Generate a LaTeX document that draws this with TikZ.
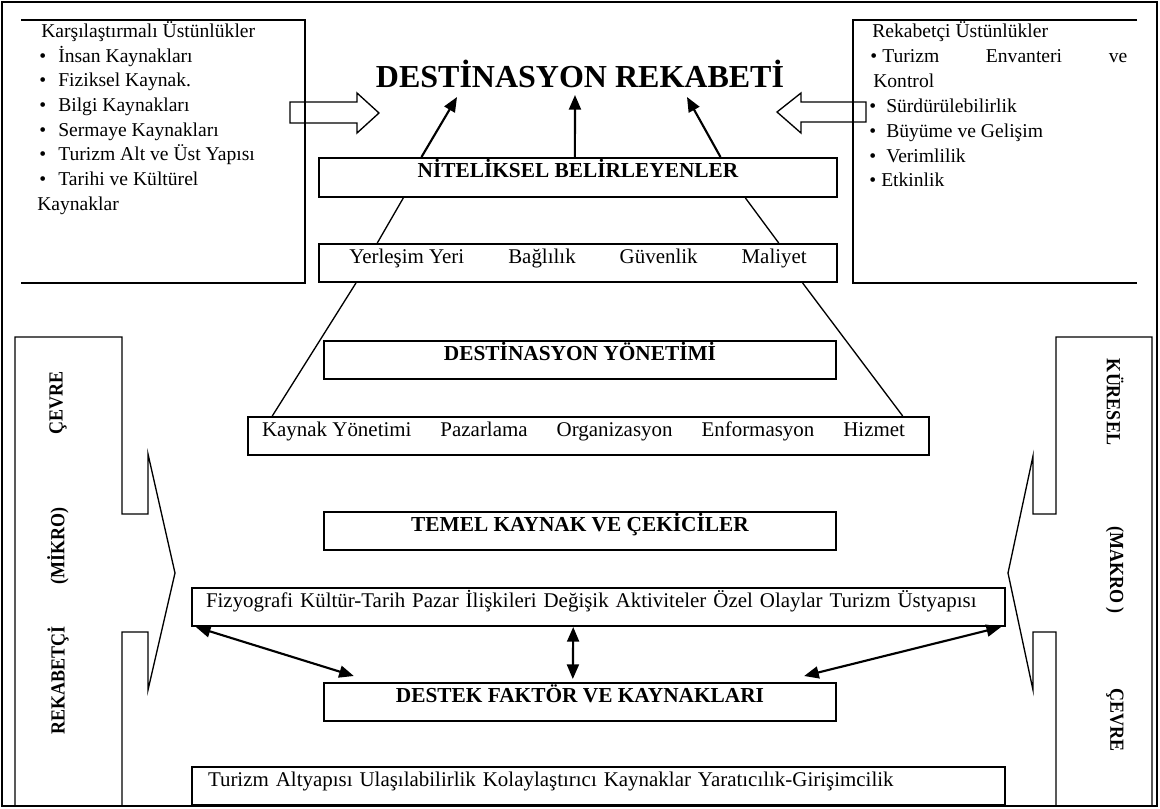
\documentclass[tikz,border=0pt]{standalone}
\usepackage{fontspec}
\setmainfont{Liberation Serif}
\usetikzlibrary{arrows.meta,calc}
\newlength\pxu
\setlength\pxu{0.75pt}
\newcommand\bul{\makebox[19\pxu][l]{•}}
\begin{document}
\begin{tikzpicture}[x=0.75pt,y=-0.75pt,
  framebox/.style={draw,line width=1.5pt,inner sep=0pt,text height=10pt,text depth=10pt},
  boldlabel/.style={font=\bfseries\fontsize{16}{19}\selectfont},
  plainlabel/.style={font=\fontsize{15.7}{19}\selectfont},
  ltext/.style={anchor=base west,inner sep=0pt,font=\fontsize{14.7}{18}\selectfont},
  sidetext/.style={inner sep=0pt,font=\bfseries\fontsize{15}{18}\selectfont},
  openbox/.style={line width=1.5pt},
  thinline/.style={line width=1pt},
  bracket/.style={line width=1pt,line join=miter},
  hollow/.style={line width=1pt,line join=miter},
  arr/.style={line width=1.6pt,-{Triangle[length=11pt,width=9pt]}},
  dbl/.style={line width=1.6pt,{Triangle[length=11pt,width=9pt]}-{Triangle[length=11pt,width=9pt]}}]
\useasboundingbox (0,0) rectangle (1160,808);

% outer frame
\draw[line width=1.8pt] (2,2) rectangle (1157,806);

% title
\node[anchor=base,inner sep=0pt,font=\bfseries\fontsize{24}{28}\selectfont] (title) at (580,87) {DESTİNASYON REKABETİ};

% open boxes at the top corners
\draw[openbox] (21,20) -- (305,20) -- (305,283) -- (21,283);
\draw[openbox] (1137,20) -- (853,20) -- (853,283) -- (1137,283);

% left list
\node[ltext] (la0) at (41,37) {Karşılaştırmalı Üstünlükler};
\node[ltext] (la1) at (39,62) {\bul İnsan Kaynakları};
\node[ltext] (la2) at (39,86.5) {\bul Fiziksel Kaynak.};
\node[ltext] (la3) at (39,111) {\bul Bilgi Kaynakları};
\node[ltext] (la4) at (39,136) {\bul Sermaye Kaynakları};
\node[ltext] (la5) at (39,160.5) {\bul Turizm Alt ve Üst Yapısı};
\node[ltext] (la6) at (39,185) {\bul Tarihi ve Kültürel};
\node[ltext] (la7) at (37,210) {Kaynaklar};

% right list
\node[ltext] (rb0) at (872,37) {Rekabetçi Üstünlükler};
\node[ltext] (rb1) at (870,62) {\makebox[257\pxu][s]{\makebox[12\pxu][l]{•}Turizm Envanteri ve}};
\node[ltext] (rb2) at (873,87) {Kontrol};
\node[ltext] (rb3) at (869,112) {\makebox[17\pxu][l]{•}Sürdürülebilirlik};
\node[ltext] (rb4) at (869,137) {\makebox[17\pxu][l]{•}Büyüme ve Gelişim};
\node[ltext] (rb5) at (869,162) {\makebox[17\pxu][l]{•}Verimlilik};
\node[ltext] (rb6) at (869,186) {\makebox[12\pxu][l]{•}Etkinlik};

% hollow arrows pointing at the title
\draw[hollow] (290,102) -- (357,102) -- (357,93) -- (379,113) -- (357,133) -- (357,123) -- (290,123) -- cycle;
\draw[hollow] (866,102) -- (801,102) -- (801,93) -- (777,112) -- (801,133) -- (801,122) -- (866,122) -- cycle;

% central boxes
\node[framebox,boldlabel,minimum width=388.5pt,minimum height=29.25pt] (nit) at (578,177.5) {NİTELİKSEL BELİRLEYENLER};
\node[framebox,plainlabel,minimum width=388.5pt,minimum height=28.5pt] (yer) at (578,263)
  {Yerleşim Yeri\hspace{33pt}Bağlılık\hspace{33pt}Güvenlik\hspace{33pt}Maliyet};
\node[framebox,boldlabel,minimum width=384pt,minimum height=28.5pt] (dy) at (580,360) {DESTİNASYON YÖNETİMİ};
\node[framebox,plainlabel,minimum width=510.75pt,minimum height=28.5pt] (ky) at (588.5,436)
  {Kaynak Yönetimi\hspace{21.75pt}Pazarlama\hspace{21.75pt}Organizasyon\hspace{21.75pt}Enformasyon\hspace{21.75pt}Hizmet\hspace*{7.5pt}};
\node[framebox,boldlabel,minimum width=384pt,minimum height=28.5pt] (tk) at (580,531) {TEMEL KAYNAK VE ÇEKİCİLER};
\node[framebox,plainlabel,align=left,text width=588.75pt,inner xsep=10.5pt,minimum height=28.5pt] (fiz) at (598.5,607)
  {Fizyografi Kültür-Tarih Pazar İlişkileri Değişik Aktiviteler Özel Olaylar Turizm Üstyapısı};
\node[framebox,boldlabel,minimum width=384pt,minimum height=28.5pt] (des) at (580,702) {DESTEK FAKTÖR VE KAYNAKLARI};
\node[framebox,plainlabel,align=left,text width=585.75pt,inner xsep=12pt,minimum height=28.5pt] (tur) at (598.5,786)
  {Turizm Altyapısı Ulaşılabilirlik Kolaylaştırıcı Kaynaklar Yaratıcılık-Girişimcilik};

% arrows into the title
\coordinate (tA) at (457,97);
\coordinate (tB) at (575,95);
\coordinate (tC) at (687,97);
\draw[arr] ($(nit.north west)!0.199!(nit.north east)$) -- (tA);
\draw[arr] ($(nit.north west)!0.494!(nit.north east)$) -- (tB);
\draw[arr] ($(nit.north west)!0.774!(nit.north east)$) -- (tC);

% thin links between boxes
\draw[thinline] ($(nit.south west)!0.164!(nit.south east)$) -- ($(yer.north west)!0.114!(yer.north east)$);
\draw[thinline] ($(nit.south west)!0.822!(nit.south east)$) -- ($(yer.north west)!0.886!(yer.north east)$);
\draw[thinline] ($(yer.south west)!0.073!(yer.south east)$) -- ($(ky.north west)!0.037!(ky.north east)$);
\draw[thinline] ($(yer.south west)!0.932!(yer.south east)$) -- ($(ky.north west)!0.960!(ky.north east)$);

% two-headed arrows
\draw[dbl] ($(fiz.south west)!0.006!(fiz.south east)$) -- ($(des.north west)!0.06!(des.north east)+(0,-6)$);
\draw[dbl] ($(fiz.south west)!0.469!(fiz.south east)$) -- ($(des.north west)!0.486!(des.north east)+(0,-3)$);
\draw[dbl] ($(fiz.south west)!0.994!(fiz.south east)$) -- ($(des.north west)!0.936!(des.north east)+(0,-6)$);

% side brackets
\draw[bracket] (15,806) -- (15,337) -- (122,337) -- (122,514) -- (148,514) -- (148,454) -- (175,573)
  -- (148,690) -- (148,632) -- (122,632) -- (122,806);
\draw[bracket] (1152,806) -- (1152,337) -- (1056,337) -- (1056,514) -- (1033,514) -- (1033,456) -- (1008,573)
  -- (1033,690) -- (1033,632) -- (1056,632) -- (1056,806);

% side labels
\node[sidetext,rotate=90,xscale=0.9] (lc) at (58,403) {ÇEVRE};
\node[sidetext,rotate=90,xscale=0.9] (lm) at (58,546) {(MİKRO)};
\node[sidetext,rotate=90,xscale=0.9] (lr) at (58,680) {REKABETÇİ};
\node[sidetext,rotate=-90,xscale=0.9] (rk) at (1115,402) {KÜRESEL};
\node[sidetext,rotate=-90,xscale=0.9] (rm) at (1115,570) {(MAKRO )};
\node[sidetext,rotate=-90,xscale=0.9] (rc) at (1115,720) {ÇEVRE};
\end{tikzpicture}
\end{document}
